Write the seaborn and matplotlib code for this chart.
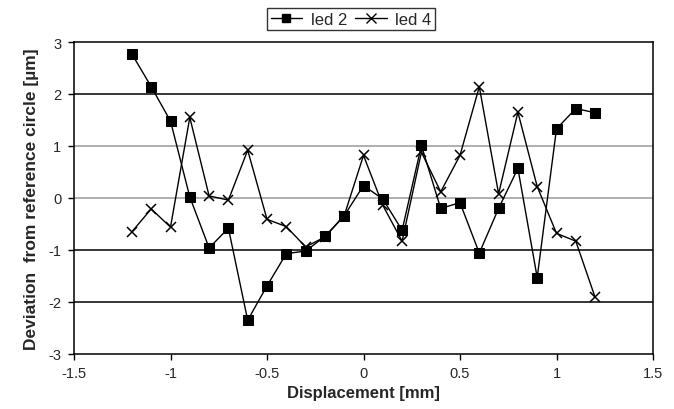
import matplotlib
matplotlib.use("Agg")
import matplotlib.pyplot as plt
import seaborn as sns
import pandas as pd
from matplotlib.lines import Line2D

displacement = [-1.2, -1.1, -1.0, -0.9, -0.8, -0.7, -0.6, -0.5, -0.4, -0.3, -0.2, -0.1,
                0.0, 0.1, 0.2, 0.3, 0.4, 0.5, 0.6, 0.7, 0.8, 0.9, 1.0, 1.1, 1.2]
led2 = [2.77, 2.14, 1.48, 0.02, -0.96, -0.58, -2.35, -1.69, -1.07, -1.02, -0.74, -0.34,
        0.24, -0.02, -0.62, 1.01, -0.20, -0.09, -1.06, -0.20, 0.57, -1.53, 1.33, 1.72, 1.64]
led4 = [-0.65, -0.21, -0.56, 1.55, 0.04, -0.04, 0.92, -0.41, -0.55, -0.94, -0.75, -0.34,
        0.82, -0.14, -0.83, 0.88, 0.12, 0.82, 2.14, 0.08, 1.65, 0.22, -0.68, -0.83, -1.91]
series_names = ["led 2", "led 4"]

df2 = pd.DataFrame({"x": displacement, "y": led2})
df4 = pd.DataFrame({"x": displacement, "y": led4})

sns.set_style("white")
plt.rcParams["font.family"] = ["Liberation Sans", "DejaVu Sans"]

fig = plt.figure(figsize=(6.74, 4.10), dpi=100)
ax = fig.add_axes([74 / 674, 1 - 355 / 410, (653 - 74) / 674, (355 - 43) / 410])

# gridlines
for g, c in [(-2, "black"), (-1, "black"), (0, "#9a9a9a"), (1, "#9a9a9a"), (2, "black")]:
    ax.axhline(g, color=c, lw=1.1, zorder=0)

sns.lineplot(data=df2, x="x", y="y", color="black", marker="s", linewidth=1.0,
             markersize=7, markeredgecolor="black", ax=ax, zorder=3)
sns.lineplot(data=df4, x="x", y="y", color="black", marker="x", linewidth=1.0,
             markersize=6.5, markeredgewidth=1.1, markeredgecolor="black", ax=ax, zorder=2)

ax.set_xlim(-1.5, 1.5)
ax.set_ylim(-3, 3)
ax.set_xticks([-1.5, -1, -0.5, 0, 0.5, 1, 1.5])
ax.set_xticklabels(["-1.5", "-1", "-0.5", "0", "0.5", "1", "1.5"])
ax.set_yticks([-3, -2, -1, 0, 1, 2, 3])
ax.set_yticklabels(["-3", "-2", "-1", "0", "1", "2", "3"])
ax.tick_params(axis="both", direction="out", length=4, width=1, color="black",
               labelsize=10.5, pad=5, bottom=True, left=True)
for s in ax.spines.values():
    s.set_color("black")
    s.set_linewidth(1.1)

ax.set_xlabel("Displacement [mm]", fontsize=12, fontweight="bold", labelpad=3)
ax.set_ylabel("Deviation  from reference circle [µm]", fontsize=12.5, fontweight="bold", labelpad=7)

handles = [Line2D([], [], color="black", lw=1, marker="s", markersize=6),
           Line2D([], [], color="black", lw=1, marker="x", markersize=6.5, markeredgewidth=1)]
leg = fig.legend(handles, series_names, loc="upper center",
                 bbox_to_anchor=(351 / 674, 1 - 1 / 410), ncol=2, frameon=True,
                 fontsize=12, handlelength=1.9, handletextpad=0.5, columnspacing=0.5,
                 borderpad=0.2, fancybox=False, edgecolor="black")
leg.get_frame().set_linewidth(1.0)

fig.savefig("out.png", dpi=100)
